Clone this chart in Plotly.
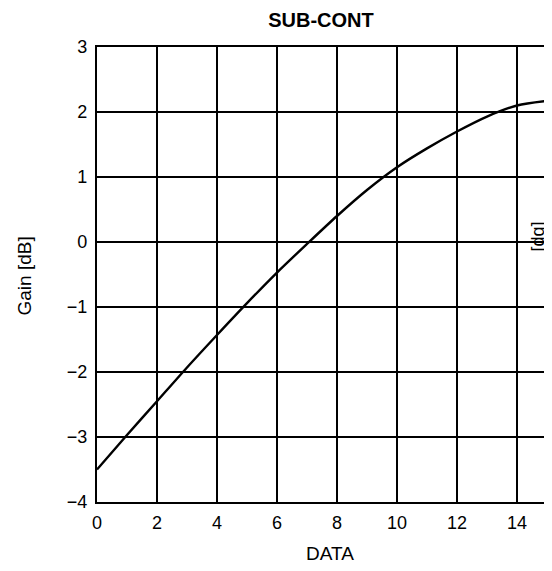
import plotly.graph_objects as go

data_x = list(range(16))
gain_db = [-3.50, -2.97, -2.45, -1.93, -1.43, -0.94, -0.47, -0.03, 0.40, 0.80,
           1.15, 1.44, 1.70, 1.93, 2.10, 2.17]
x_ticks = [0, 2, 4, 6, 8, 10, 12, 14]
y_ticks = [-4, -3, -2, -1, 0, 1, 2, 3]

font = dict(family="Liberation Sans, Arial, sans-serif", color="black")

fig = go.Figure()
fig.add_trace(go.Scatter(x=data_x, y=gain_db, mode="lines",
                         line=dict(color="black", width=2.4, shape="spline", smoothing=0.8),
                         showlegend=False, hoverinfo="skip"))

fig.update_layout(
    width=552, height=571,
    margin=dict(l=89, r=13, t=39, b=77),
    paper_bgcolor="white", plot_bgcolor="white",
    font=dict(size=18, **font),
    title=dict(text="<b>SUB-CONT</b>", x=0.567, xanchor="center", xref="container",
               y=0.979, yanchor="middle", yref="container",
               font=dict(size=20, **font)),
    xaxis=dict(range=[0, 15], tickvals=x_ticks, ticks="", showgrid=True,
               gridcolor="black", gridwidth=1.6, zeroline=False,
               showline=True, linecolor="black", linewidth=2.4, mirror=True,
               ticklabelstandoff=3, automargin=False,
               tickfont=dict(size=18, **font)),
    yaxis=dict(range=[-4, 3], tickvals=y_ticks, ticks="", showgrid=True,
               gridcolor="black", gridwidth=1.6, zeroline=False,
               showline=True, linecolor="black", linewidth=2.4, mirror=True,
               ticklabelstandoff=4, automargin=False,
               tickfont=dict(size=18, **font)),
)

fig.add_annotation(text="DATA", xref="paper", yref="paper", x=0.517, y=-0.114,
                   xanchor="center", yanchor="middle", showarrow=False,
                   font=dict(size=19, **font))
fig.add_annotation(text="Gain [dB]", xref="paper", yref="paper", x=-0.16, y=0.4956,
                   xanchor="center", yanchor="middle", textangle=-90, showarrow=False,
                   font=dict(size=19, **font))
fig.add_annotation(text="[dg]", xref="paper", yref="paper", x=0.978, y=0.5835,
                   xanchor="center", yanchor="middle", textangle=-90, showarrow=False,
                   font=dict(size=18, **font))

fig.write_html("out.html")
